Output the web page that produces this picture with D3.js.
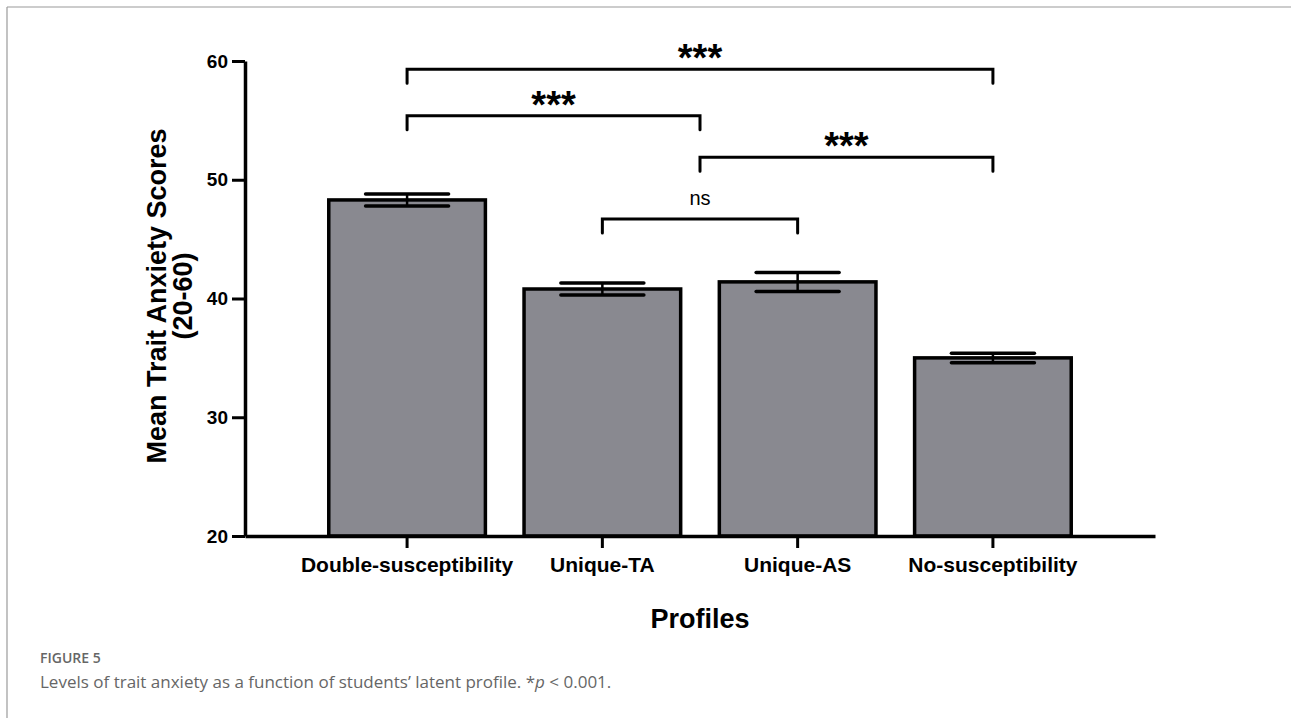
<!DOCTYPE html>
<html>
<head>
<meta charset="utf-8">
<script src="https://cdn.jsdelivr.net/npm/d3@7"></script>
<style>
  body { margin: 0; background: #fff; }
  svg { display: block; }
</style>
</head>
<body>
<svg id="chart" width="1291" height="718"></svg>
<script>
// Latent profiles and their mean trait anxiety (STAI-T, 20-60) with standard errors
const profiles = ["Double-susceptibility", "Unique-TA", "Unique-AS", "No-susceptibility"];
const meanScores = [48.3, 40.8, 41.4, 35.0];
const standardErrors = [0.5, 0.5, 0.8, 0.4];
const yTickValues = [20, 30, 40, 50, 60];

// Pairwise comparison brackets: endpoints as profile positions (1.5 = between Unique-TA and Unique-AS)
const bracketFrom = [0, 0, 1.5, 1];
const bracketTo = [3, 1.5, 3, 2];
const bracketLevel = [59.3, 55.4, 51.9, 46.7];
const bracketLabel = ["***", "***", "***", "ns"];

const yTitleLines = ["Mean Trait Anxiety Scores", "(20-60)"];
const xTitle = "Profiles";
const figureLabel = "FIGURE 5";
const captionText = "Levels of trait anxiety as a function of students\u2019 latent profile. *";
const captionItalic = "p";
const captionTail = " < 0.001.";

const svg = d3.select("#chart");
const font = "'Liberation Sans', Arial, Helvetica, sans-serif";

// Page frame
svg.append("line").attr("x1", 7).attr("y1", 7).attr("x2", 1291).attr("y2", 7)
  .attr("stroke", "#9a9a9a").attr("stroke-width", 1.2);
svg.append("line").attr("x1", 7).attr("y1", 7).attr("x2", 7).attr("y2", 718)
  .attr("stroke", "#9a9a9a").attr("stroke-width", 1.2);

// Scales
const y = d3.scaleLinear().domain([20, 60]).range([536, 61]);
const x = d3.scaleBand().domain(profiles).range([245, 1155])
  .paddingInner(0.18).paddingOuter(0.42);
const bw = x.bandwidth();
const centerAt = p => {
  const i = Math.floor(p), f = p - i;
  return x(profiles[i]) + bw / 2 + f * x.step();
};

const data = profiles.map((p, i) => ({ p, m: meanScores[i], e: standardErrors[i] }));

// Bars
svg.append("g").selectAll("rect").data(data).join("rect")
  .attr("x", d => x(d.p) + 1.75)
  .attr("width", bw - 3.5)
  .attr("y", d => y(d.m))
  .attr("height", d => y(20) - y(d.m))
  .attr("fill", "#898990")
  .attr("stroke", "#000")
  .attr("stroke-width", 3.5);

// Error bars
const eb = svg.append("g").attr("stroke", "#000");
eb.selectAll("line.stem").data(data).join("line").attr("class", "stem")
  .attr("x1", d => x(d.p) + bw / 2).attr("x2", d => x(d.p) + bw / 2)
  .attr("y1", d => y(d.m - d.e)).attr("y2", d => y(d.m + d.e))
  .attr("stroke-width", 2.5);
[1, -1].forEach(s => {
  eb.append("g").selectAll("line").data(data).join("line")
    .attr("x1", d => x(d.p) + bw / 2 - 41.5).attr("x2", d => x(d.p) + bw / 2 + 41.5)
    .attr("y1", d => y(d.m + s * d.e)).attr("y2", d => y(d.m + s * d.e))
    .attr("stroke-width", 3.5).attr("stroke-linecap", "round");
});

// Axes
const yAxis = svg.append("g").attr("transform", "translate(245,0)")
  .call(d3.axisLeft(y).tickValues(yTickValues).tickSize(13).tickSizeOuter(0).tickPadding(4));
const xAxis = svg.append("g").attr("transform", "translate(0,536)")
  .call(d3.axisBottom(x).tickSize(12).tickSizeOuter(0).tickPadding(9));
[yAxis, xAxis].forEach(g => {
  g.select(".domain").attr("stroke", "#000").attr("stroke-width", 3.5);
  g.selectAll(".tick line").attr("stroke", "#000").attr("stroke-width", 3);
  g.selectAll(".tick text").attr("fill", "#000")
    .attr("font-family", font).attr("font-weight", "bold");
});
yAxis.selectAll(".tick text").attr("font-size", 19);
xAxis.selectAll(".tick text").attr("font-size", 21);

// Axis titles
yTitleLines.forEach((t, i) => {
  svg.append("text")
    .attr("transform", `translate(${166 + i * 26},${296}) rotate(-90)`)
    .attr("text-anchor", "middle")
    .attr("font-family", font).attr("font-weight", "bold").attr("font-size", 27)
    .text(t);
});
svg.append("text").attr("x", 700).attr("y", 628).attr("text-anchor", "middle")
  .attr("font-family", font).attr("font-weight", "bold").attr("font-size", 27)
  .text(xTitle);

// Significance brackets
const br = svg.append("g");
bracketLevel.forEach((lv, i) => {
  const x1 = centerAt(bracketFrom[i]), x2 = centerAt(bracketTo[i]), yy = y(lv);
  br.append("path")
    .attr("d", `M${x1},${yy + 14}V${yy}H${x2}V${yy + 14}`)
    .attr("fill", "none").attr("stroke", "#000").attr("stroke-width", 3)
    .attr("stroke-linecap", "round");
  const isStars = bracketLabel[i] !== "ns";
  br.append("text")
    .attr("x", (x1 + x2) / 2)
    .attr("y", isStars ? yy + 2 : yy - 14)
    .attr("text-anchor", "middle")
    .attr("font-family", font)
    .attr("font-weight", isStars ? "bold" : "normal")
    .attr("font-size", isStars ? 38 : 20)
    .text(bracketLabel[i]);
});

// Figure caption
svg.append("text").attr("x", 40).attr("y", 663)
  .attr("font-family", "'Open Sans', sans-serif").attr("font-weight", 600)
  .attr("font-size", 14).attr("fill", "#666")
  .text(figureLabel);
const cap = svg.append("text").attr("x", 40).attr("y", 688)
  .attr("font-family", "'Open Sans', sans-serif").attr("font-weight", 400)
  .attr("font-size", 17).attr("fill", "#666");
cap.append("tspan").text(captionText);
cap.append("tspan").attr("font-style", "italic").text(captionItalic);
cap.append("tspan").text(captionTail);
</script>
</body>
</html>
